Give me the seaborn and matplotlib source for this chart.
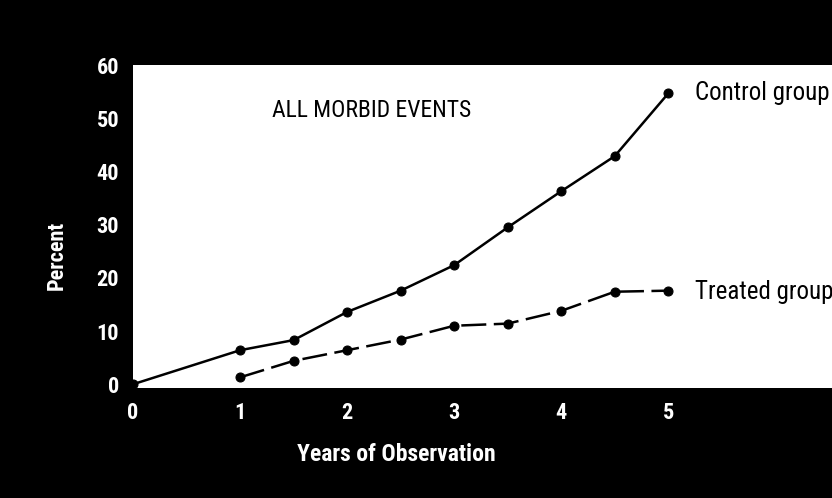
import matplotlib
matplotlib.use("Agg")
import matplotlib.pyplot as plt
import seaborn as sns
from matplotlib import font_manager

# Values
control_years = [0, 1, 1.5, 2, 2.5, 3, 3.5, 4, 4.5, 5]
control_pct = [0, 6.4, 8.3, 13.6, 17.6, 22.4, 29.5, 36.3, 42.9, 54.7]

treated_years = [1, 1.5, 2, 2.5, 3, 3.5, 4, 4.5, 5]
treated_pct = [1.3, 4.4, 6.4, 8.4, 11.0, 11.4, 13.8, 17.4, 17.6]

x_ticks = [0, 1, 2, 3, 4, 5]
y_ticks = [0, 10, 20, 30, 40, 50, 60]

sns.set_style("white")

# pick a narrow sans if one is installed
names = {f.name for f in font_manager.fontManager.ttflist}
wanted = ["Roboto Condensed", "PT Sans Narrow", "Liberation Sans Narrow",
          "Archivo Narrow", "Fira Sans Condensed", "Open Sans Condensed"]
narrow = [n for n in wanted if n in names][:1]
plt.rcParams["font.family"] = narrow + ["DejaVu Sans"]

fig = plt.figure(figsize=(8.32, 4.98), dpi=100, facecolor="black")
ax = fig.add_axes([0.160, 0.221, 0.84, 0.648])
ax.set_facecolor("white")

sns.lineplot(x=control_years, y=control_pct, ax=ax, color="black", marker="o",
             markersize=6.5, linewidth=1.8, markeredgecolor="black")
sns.lineplot(x=treated_years, y=treated_pct, ax=ax, color="black", marker="o",
             markersize=6.5, linewidth=1.8, markeredgecolor="black",
             linestyle=(0, (10, 3)))

ax.set_xlim(0, 6.53)
ax.set_ylim(-0.7, 60)
ax.set_xticks(x_ticks)
ax.set_yticks(y_ticks)
ax.tick_params(direction="in", length=6, width=1.2, colors="black",
               labelcolor="white", labelsize=16, pad=10)
for lbl in ax.get_xticklabels() + ax.get_yticklabels():
    lbl.set_fontweight("bold")
for s in ax.spines.values():
    s.set_visible(False)

ax.set_xlabel("Years of Observation", color="white", fontsize=17, fontweight="bold")
ax.xaxis.set_label_coords(0.376, -0.17)
ax.set_ylabel("Percent", color="white", fontsize=16, fontweight="bold")
ax.yaxis.set_label_coords(-0.094, 0.41)

ax.text(1.3, 51.4, "ALL MORBID EVENTS", fontsize=17, color="black", va="center")
ax.text(5.25, 54.7, "Control group", fontsize=18, color="black", va="center")
ax.text(5.25, 17.4, "Treated group", fontsize=18, color="black", va="center")

fig.savefig("out.png", dpi=100, facecolor="black")
